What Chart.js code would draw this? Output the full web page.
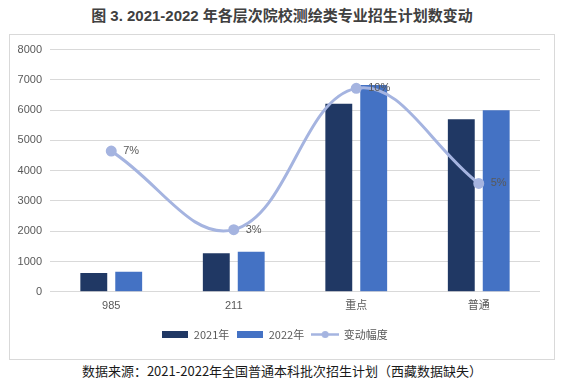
<!DOCTYPE html>
<html><head><meta charset="utf-8">
<script src="https://cdn.jsdelivr.net/npm/chart.js@4/dist/chart.umd.min.js"></script>
<style>
html,body{margin:0;padding:0;background:#fff;}
body{width:564px;height:382px;position:relative;overflow:hidden;font-family:"Noto Sans CJK SC",sans-serif;}
#title{position:absolute;left:0;top:5px;width:564px;text-align:center;font-size:15px;font-weight:bold;color:#404040;font-family:"Liberation Sans","Noto Sans CJK SC",sans-serif;line-height:22px;}
#box{position:absolute;left:9px;top:34px;width:544px;height:324px;border:1px solid #D9D9D9;}
#box canvas{display:block;}
#caption{position:absolute;left:0;top:361px;width:564px;text-align:center;font-size:13px;color:#1a1a1a;line-height:20px;}
</style></head>
<body>
<div id="title">图 3. 2021-2022 年各层次院校测绘类专业招生计划数变动</div>
<div id="box"><canvas id="c" width="544" height="324"></canvas></div>
<div id="caption">数据来源：2021-2022年全国普通本科批次招生计划（西藏数据缺失）</div>
<script>
const categories = ["985", "211", "重点", "普通"];
const plan2021 = [620, 1270, 6210, 5700];
const plan2022 = [660, 1320, 6830, 6000];
const changeRate = [0.0697, 0.0308, 0.1008, 0.0537];
const yTicks = [0, 1000, 2000, 3000, 4000, 5000, 6000, 7000, 8000];
const seriesNames = ["2021年", "2022年", "变动幅度"];

const C21 = "#203864", C22 = "#4472C4", CL = "#A5B4E0";

function swatch(color) {
  const c = document.createElement("canvas"); c.width = 26; c.height = 7;
  const g = c.getContext("2d"); g.fillStyle = color; g.fillRect(0, 0, 26, 7); return c;
}
function lineSwatch() {
  const c = document.createElement("canvas"); c.width = 28; c.height = 9;
  const g = c.getContext("2d"); g.strokeStyle = CL; g.lineWidth = 2.5;
  g.beginPath(); g.moveTo(0, 4.5); g.lineTo(28, 4.5); g.stroke();
  g.fillStyle = CL; g.beginPath(); g.arc(14, 4.5, 3.5, 0, Math.PI * 2); g.fill(); return c;
}
const legendImgs = [swatch(C21), swatch(C22), lineSwatch()];

const labelPlugin = {
  id: "pctLabels",
  afterDatasetsDraw(chart) {
    const meta = chart.getDatasetMeta(2);
    const ctx = chart.ctx;
    ctx.save();
    ctx.font = "11px 'Liberation Sans', sans-serif";
    ctx.fillStyle = "#595959";
    ctx.textAlign = "left"; ctx.textBaseline = "middle";
    meta.data.forEach((pt, i) => {
      ctx.fillText(Math.round(changeRate[i] * 100) + "%", pt.x + 12, pt.y);
    });
    ctx.restore();
  }
};

new Chart(document.getElementById("c"), {
  data: {
    labels: categories,
    datasets: [
      { type: "bar", label: seriesNames[0], data: plan2021, backgroundColor: C21, yAxisID: "y", order: 2,
        categoryPercentage: 0.57, barPercentage: 0.77 },
      { type: "bar", label: seriesNames[1], data: plan2022, backgroundColor: C22, yAxisID: "y", order: 2,
        categoryPercentage: 0.57, barPercentage: 0.77 },
      { type: "line", label: seriesNames[2], data: changeRate, borderColor: CL, backgroundColor: CL, borderWidth: 3,
        pointRadius: 4, pointBackgroundColor: CL, pointBorderColor: CL, tension: 0.4, yAxisID: "y2", order: 0 }
    ]
  },
  options: {
    responsive: false, animation: false,
    layout: { padding: { left: 0, right: 14, top: 4, bottom: 9 } },
    plugins: {
      title: { display: false },
      tooltip: { enabled: false },
      legend: {
        position: "bottom",
        labels: {
          usePointStyle: true, pointStyleWidth: 26, boxHeight: 9, padding: 8,
          color: "#595959", font: { size: 11, family: "'Noto Sans CJK SC', sans-serif" },
          generateLabels: (chart) => seriesNames.map((n, i) => ({
            text: n, pointStyle: legendImgs[i], datasetIndex: i, fontColor: "#595959",
            fillStyle: "transparent", strokeStyle: "transparent", lineWidth: 0, hidden: false
          }))
        }
      }
    },
    scales: {
      x: {
        grid: { display: false, drawTicks: false },
        border: { display: false },
        ticks: { color: "#595959", font: { size: 11, family: "'Liberation Sans','Noto Sans CJK SC', sans-serif" }, padding: 8 }
      },
      y: {
        min: 0, max: 8000,
        afterBuildTicks: (s) => { s.ticks = yTicks.map(v => ({ value: v })); },
        afterFit: (s) => { s.width = 40; },
        grid: { color: "#D9D9D9", lineWidth: 1, drawTicks: false },
        border: { display: false },
        ticks: { color: "#595959", font: { size: 11, family: "'Liberation Sans', sans-serif" }, padding: 8,
                 callback: (v) => String(v) }
      },
      y2: { min: 0, max: 0.12, display: false, position: "right" }
    }
  },
  plugins: [labelPlugin]
});
</script>
</body></html>
